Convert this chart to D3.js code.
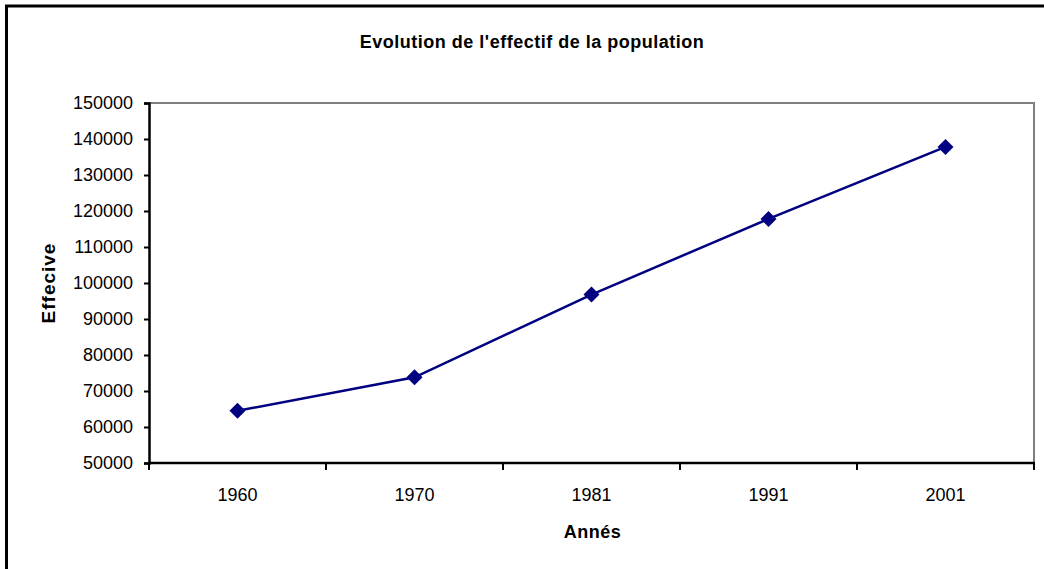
<!DOCTYPE html>
<html>
<head>
<meta charset="utf-8">
<script src="https://cdn.jsdelivr.net/npm/d3@7"></script>
<style>
  html, body { margin: 0; padding: 0; background: #fff; }
  svg { display: block; font-family: "Liberation Sans", Arial, sans-serif; }
</style>
</head>
<body>
<svg id="chart" width="1044" height="569"></svg>
<script>
// Population counts by census year
const years = ["1960", "1970", "1981", "1991", "2001"];
const population = [64500, 73800, 96800, 117800, 137800];
const yTicks = [50000, 60000, 70000, 80000, 90000, 100000, 110000, 120000, 130000, 140000, 150000];

const title = "Evolution de l'effectif de la population";
const xTitle = "Annés";
const yTitle = "Effecive";

const svg = d3.select("#chart");
const plot = { left: 149, right: 1034, top: 103, bottom: 463 };

// Chart frame
svg.append("rect")
  .attr("x", 6.5).attr("y", 6)
  .attr("width", 1100).attr("height", 620)
  .attr("fill", "#fff")
  .attr("stroke", "#000").attr("stroke-width", 3);

const x = d3.scaleBand().domain(years).range([plot.left, plot.right]).padding(0);
const y = d3.scaleLinear().domain([50000, 150000]).range([plot.bottom, plot.top]);

// Plot area border (top and right)
svg.append("path")
  .attr("d", `M${plot.left},${plot.top}H${plot.right}V${plot.bottom}`)
  .attr("fill", "none").attr("stroke", "#808080").attr("stroke-width", 2);

// Y axis
const yAxis = svg.append("g")
  .attr("transform", `translate(${plot.left},0)`)
  .call(d3.axisLeft(y).tickValues(yTicks).tickFormat(d3.format("d")).tickSize(5).tickPadding(11));
yAxis.select(".domain").attr("stroke", "#000").attr("stroke-width", 2.5);
yAxis.selectAll(".tick line").attr("stroke", "#000").attr("stroke-width", 2);
yAxis.selectAll("text").attr("font-size", 18).attr("fill", "#000")
  .attr("font-family", "'Liberation Sans', Arial, sans-serif");

// X axis: labels centred in each category, ticks at category boundaries
const xAxis = svg.append("g")
  .attr("transform", `translate(0,${plot.bottom})`)
  .call(d3.axisBottom(x).tickSize(0).tickPadding(25));
xAxis.select(".domain").remove();
xAxis.selectAll("text").attr("font-size", 18).attr("fill", "#000")
  .attr("font-family", "'Liberation Sans', Arial, sans-serif");

const boundaries = years.map(d => x(d)).concat([x(years[years.length - 1]) + x.bandwidth()]);
svg.append("g").selectAll("line")
  .data(boundaries)
  .join("line")
  .attr("x1", d => d).attr("x2", d => d)
  .attr("y1", plot.bottom).attr("y2", plot.bottom + 7)
  .attr("stroke", "#000").attr("stroke-width", 2);
svg.append("line")
  .attr("x1", plot.left - 1).attr("x2", plot.right + 1)
  .attr("y1", plot.bottom).attr("y2", plot.bottom)
  .attr("stroke", "#000").attr("stroke-width", 2.5);

// Data series
const cx = d => x(d) + x.bandwidth() / 2;
const pts = years.map((d, i) => [cx(d), y(population[i])]);

svg.append("path")
  .datum(pts)
  .attr("d", d3.line())
  .attr("fill", "none")
  .attr("stroke", "#000080")
  .attr("stroke-width", 2.5);

svg.append("g").selectAll("path")
  .data(pts)
  .join("path")
  .attr("transform", d => `translate(${d[0]},${d[1]})`)
  .attr("d", "M0,-8L8,0L0,8L-8,0Z")
  .attr("fill", "#000080");

// Titles
svg.append("text")
  .attr("x", 532).attr("y", 48)
  .attr("text-anchor", "middle")
  .attr("font-size", 18).attr("font-weight", "bold")
  .attr("letter-spacing", 0.5)
  .text(title);

svg.append("text")
  .attr("x", (plot.left + plot.right) / 2 + 1).attr("y", 538)
  .attr("text-anchor", "middle")
  .attr("font-size", 18).attr("font-weight", "bold")
  .attr("letter-spacing", 0.5)
  .text(xTitle);

svg.append("text")
  .attr("transform", `translate(55,${(plot.top + plot.bottom) / 2}) rotate(-90)`)
  .attr("text-anchor", "middle")
  .attr("font-size", 19).attr("font-weight", "bold")
  .attr("letter-spacing", 1)
  .text(yTitle);
</script>
</body>
</html>
